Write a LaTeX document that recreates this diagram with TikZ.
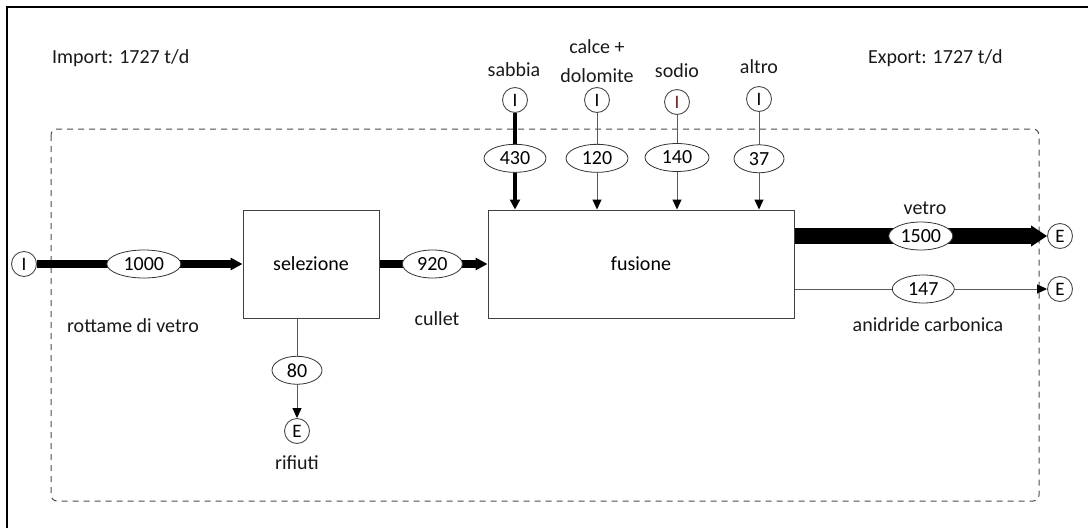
\documentclass[tikz,border=0pt]{standalone}
\usepackage{fontspec}
\setmainfont{Carlito}
\usetikzlibrary{shapes.geometric,arrows.meta,calc}
\definecolor{linegray}{RGB}{90,90,90}
\definecolor{darkred}{RGB}{120,30,30}
\tikzset{
  txt/.style={font=\fontsize{20}{29}\selectfont, inner sep=0pt, text=black!90},
  procbox/.style={draw=black!75, line width=1pt, fill=white, inner sep=0pt, font=\fontsize{20}{24}\selectfont},
  circ/.style={circle, draw=black!70, line width=0.9pt, fill=white, minimum size=25pt, inner sep=0pt, font=\fontsize{19}{20}\selectfont},
  flow/.style={ellipse, draw=black!80, line width=0.8pt, fill=white, minimum height=28pt, inner sep=0pt, font=\fontsize{20}{24}\selectfont},
  thickflow/.style={line width=8pt, -{Triangle[length=12pt,width=12pt]}},
  hugeflow/.style={line width=16pt, -{Triangle[length=16pt,width=20pt]}},
  midflow/.style={line width=4pt, -{Triangle[length=10pt,width=10pt]}},
  thinflow/.style={draw=linegray, line width=1pt, -{Triangle[length=10pt,width=9pt,color=black]}},
  frameline/.style={line width=1.3pt, draw=black},
  sysbound/.style={draw=black!70, line width=1pt, dash pattern=on 6pt off 5pt, rounded corners=6pt}
}
\begin{document}
\begin{tikzpicture}[x=1pt,y=-1pt]
\useasboundingbox (0,0) rectangle (1088,528);
% outer frame (top and left)
\coordinate (fr0) at (7,7);
\coordinate (frR) at (1088,7);
\coordinate (frB) at (7,528);
\draw[frameline] (frB) -- (fr0) -- (frR);
% system boundary
\coordinate (sb1) at (51,129);
\coordinate (sb2) at (1039,501);
\draw[sysbound] (sb1) rectangle (sb2);
% headings
\node[txt, anchor=west] (imp) at (52,58) {Import: 1727 t/d};
\node[txt, anchor=west] (exp) at (868,58) {Export: 1727 t/d};
% process boxes
\node[procbox, minimum width=136pt, minimum height=108pt] (sel) at (311,264) {selezione};
\node[procbox, minimum width=306pt, minimum height=108pt] (fus) at (641,264) {fusione};
% input / export circles
\node[circ] (inV) at (24,264) {I};
\node[circ] (inS) at (515,100) {I};
\node[circ] (inC) at (597,100) {I};
\node[circ, text=darkred] (inN) at (677,102) {I};
\node[circ] (inA) at (759,99) {I};
\node[circ] (exV) at (1060,236) {E};
\node[circ] (exC) at (1060,289) {E};
\node[circ] (exR) at (297,431) {E};
% labels
\node[txt] (lS) at (514,70) {sabbia};
\node[txt, align=center] (lC) at (597,61) {calce +\\dolomite};
\node[txt] (lN) at (677,71) {sodio};
\node[txt] (lA) at (759,67) {altro};
\node[txt] (lRV) at (133,326) {rottame di vetro};
\node[txt] (lCu) at (437,319) {cullet};
\node[txt] (lV) at (925,208) {vetro};
\node[txt] (lAC) at (928,325) {anidride carbonica};
\node[txt] (lRi) at (297,463) {rifiuti};
% flows
\draw[thickflow] (inV.east) -- node[flow, minimum width=74pt, pos=0.52] (f1000) {1000} (inV -| sel.west);
\draw[thickflow] (sel.east) -- node[flow, minimum width=60pt, pos=0.49] (f920) {920} (fus.west);
\draw[hugeflow] (fus.east |- exV) -- node[flow, minimum width=64pt, pos=0.50] (f1500) {1500} (exV.west);
\draw[thinflow] (fus.east |- exC) -- node[flow, minimum width=62pt, pos=0.51] (f147) {147} (exC.west);
\draw[midflow] (inS.south) -- node[flow, minimum width=62pt, pos=0.47] (f430) {430} (inS |- fus.north);
\draw[thinflow] (inC.south) -- node[flow, minimum width=62pt, pos=0.47] (f120) {120} (inC |- fus.north);
\draw[thinflow] (inN.south) -- node[flow, minimum width=64pt, pos=0.45] (f140) {140} (inN |- fus.north);
\draw[thinflow] (inA.south) -- node[flow, minimum width=50pt, pos=0.48] (f37) {37} (inA |- fus.north);
\draw[thinflow] (exR |- sel.south) -- node[flow, minimum width=50pt, pos=0.52] (f80) {80} (exR.north);
\end{tikzpicture}
\end{document}
